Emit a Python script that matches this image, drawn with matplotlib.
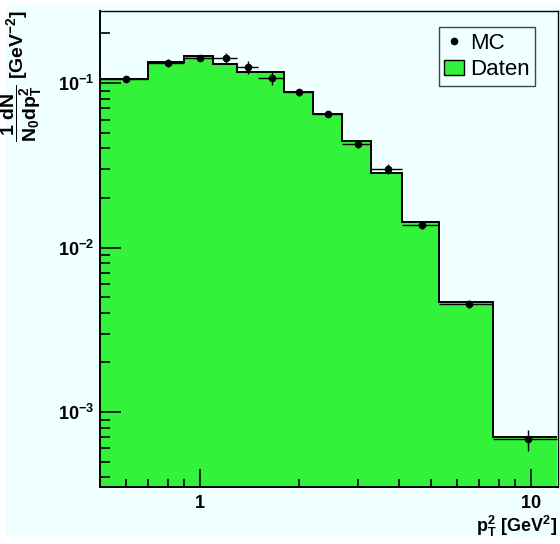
import matplotlib
matplotlib.use("Agg")
import matplotlib.pyplot as plt
import numpy as np
from matplotlib.patches import Patch, Rectangle
from matplotlib.lines import Line2D
from matplotlib.ticker import FixedLocator, NullFormatter

plt.rcParams['font.family'] = ['Liberation Sans', 'DejaVu Sans']
plt.rcParams['mathtext.fontset'] = 'custom'
plt.rcParams['mathtext.rm'] = 'Liberation Sans'
plt.rcParams['mathtext.bf'] = 'Liberation Sans:bold'
plt.rcParams['mathtext.it'] = 'Liberation Sans:italic'

# bin edges in pT^2 [GeV^2]
edges = [0.5, 0.7, 0.9, 1.1, 1.3, 1.5, 1.8, 2.2, 2.7, 3.3, 4.1, 5.3, 7.7, 12.0]
# data histogram (Daten)
daten = [0.106, 0.134, 0.145, 0.130, 0.117, 0.117, 0.0885, 0.0648,
         0.0444, 0.0285, 0.0142, 0.00465, 0.000702]
# MC points and errors
mc = [0.106, 0.132, 0.1426, 0.1413, 0.1246, 0.1068, 0.0878, 0.0646,
      0.0426, 0.0300, 0.0137, 0.00455, 0.000682]
mc_err = [0.005, 0.007, 0.006, 0.011, 0.011, 0.010, 0.004, 0.002,
          0.0024, 0.002, 0.0008, 0.00025, 0.0001]

bg = '#f0ffff'
green = '#33f23a'

fig = plt.figure(figsize=(5.6, 5.44), dpi=100)
fig.patch.set_facecolor('white')
fig.patches.append(Rectangle((6/560, 7/544), 554/560, 532/544, transform=fig.transFigure,
                             facecolor=bg, edgecolor='none', zorder=-10))
ax = fig.add_axes([100/560, 1 - 487/544, 458/560, 476/544])
ax.set_facecolor(bg)
ax.set_xscale('log')
ax.set_yscale('log')

ax.stairs(daten, edges, baseline=1e-6, fill=True, color=green, zorder=1)
ax.stairs(daten, edges, baseline=None, color='black', linewidth=1.4, zorder=2)

e = np.array(edges)
centers = (e[:-1] + e[1:]) / 2
xerr = [centers - e[:-1], e[1:] - centers]
ax.errorbar(centers, mc, yerr=mc_err, xerr=xerr, fmt='o', color='black',
            markersize=4.5, elinewidth=1.0, capsize=0, zorder=3)

ax.set_xlim(0.5, 12.1)
ax.set_ylim(3.5e-4, 0.274)

ax.xaxis.set_major_locator(FixedLocator([1, 10]))
ax.xaxis.set_minor_locator(FixedLocator([0.6, 0.7, 0.8, 0.9, 2, 3, 4, 5, 6, 7, 8, 9]))
ax.set_xticklabels([r'$\mathbf{1}$', r'$\mathbf{10}$'])
ax.xaxis.set_minor_formatter(NullFormatter())

ymaj = [1e-3, 1e-2, 1e-1]
ax.yaxis.set_major_locator(FixedLocator(ymaj))
ymin = [m * d for d in [1e-4, 1e-3, 1e-2, 1e-1] for m in range(2, 10)]
ax.yaxis.set_minor_locator(FixedLocator(ymin))
ax.set_yticklabels([r'$\mathbf{10^{-3}}$', r'$\mathbf{10^{-2}}$', r'$\mathbf{10^{-1}}$'])
ax.yaxis.set_minor_formatter(NullFormatter())

ax.tick_params(which='both', direction='in', top=False, right=False, width=1.2, labelsize=13)
ax.tick_params(axis='x', which='major', length=13, pad=6)
ax.tick_params(axis='x', which='minor', length=6)
ax.tick_params(axis='y', which='major', length=15, pad=4)
ax.tick_params(axis='y', which='minor', length=7)
for s in ax.spines.values():
    s.set_linewidth(1.0)
ax.spines['left'].set_linewidth(1.4)
ax.spines['bottom'].set_linewidth(1.4)

handles = [Line2D([], [], marker='o', color='black', linestyle='none', markersize=4.5),
           Patch(facecolor=green, edgecolor='black')]
leg = ax.legend(handles, ['MC', 'Daten'], loc='upper left', bbox_to_anchor=(0.74, 0.966),
                fontsize=16, fancybox=False, framealpha=1, facecolor=bg, edgecolor='#444444',
                handlelength=0.9, handletextpad=0.25, borderpad=0.25, labelspacing=0.25,
                borderaxespad=0)
leg.get_frame().set_linewidth(1.0)

fig.text(22/560, 1 - 10/544, r'$\mathbf{\dfrac{1\ dN}{N_0dp_T^2}\ [GeV^{-2}]}$',
         rotation=90, ha='center', va='top', fontsize=14)
fig.text(557/560, 1 - 539/544, r'$\mathbf{p_T^2\ [GeV^2]}$', ha='right', va='bottom',
         fontsize=13)

fig.savefig('out.png', dpi=100, facecolor=fig.get_facecolor())
